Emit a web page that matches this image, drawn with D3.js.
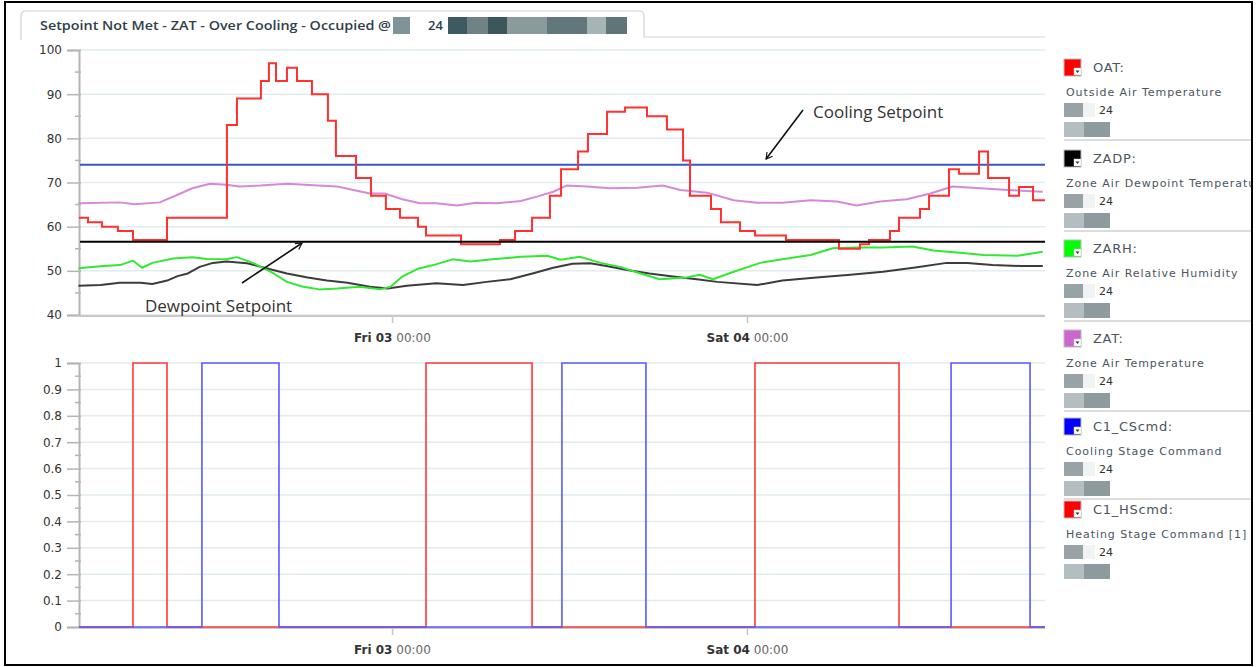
<!DOCTYPE html>
<html>
<head>
<meta charset="utf-8">
<script src="https://cdn.jsdelivr.net/npm/d3@7"></script>
<style>
  body { margin: 0; background: #fff; }
  svg { display: block; font-family: "DejaVu Sans", Verdana, sans-serif; }
</style>
</head>
<body>
<div id="chart"></div>
<script>
// time values are hours counted from Thu 02 00:00
var startHour = 2.84, endHour = 68.15;

// OAT (step series)
var oatHours = [2.84, 3.45, 4.39, 5.47, 6.49, 8.79, 12.84, 13.52, 15.14, 15.68, 16.16, 16.90, 17.58, 18.59, 19.67, 20.21, 21.57, 22.58, 23.59, 24.54, 25.76, 26.30, 28.67, 31.30, 32.32, 33.47, 34.68, 35.43, 36.58, 37.25, 38.54, 39.75, 41.24, 42.59, 43.68, 44.15, 45.57, 46.24, 47.53, 48.54, 50.64, 54.22, 55.64, 56.25, 57.67, 58.28, 59.70, 60.31, 61.66, 62.34, 63.69, 64.30, 65.72, 66.39, 67.34, 68.15];
var oatValues = [62, 61, 60, 59, 57, 62, 83, 89, 93, 97, 93, 96, 93, 90, 84, 76, 71, 67, 64, 62, 60, 58, 56, 57, 59, 62, 67, 73, 77, 81, 86, 87, 85, 82, 75, 67, 64, 61, 59, 58, 57, 55, 56, 57, 59, 62, 64, 67, 73, 72, 77, 71, 67, 69, 66, 66];

// ZAT
var zatHours = [2.8, 5.6, 6.6, 8.3, 9.7, 10.5, 11.7, 12.8, 13.7, 15.1, 16.9, 18.7, 20.3, 22.5, 23.5, 24.7, 25.9, 27.0, 28.4, 29.7, 31.1, 32.7, 33.8, 34.9, 35.8, 37.2, 38.7, 40.6, 42.3, 43.5, 45.3, 47.1, 48.7, 50.4, 52.3, 54.1, 55.4, 57.0, 58.8, 60.4, 61.9, 63.8, 65.6, 68.0];
var zatValues = [65.3, 65.5, 65.1, 65.5, 67.5, 68.7, 69.7, 69.5, 69.1, 69.3, 69.7, 69.4, 69.1, 67.5, 67.5, 66.2, 65.3, 65.3, 64.8, 65.4, 65.3, 65.8, 66.8, 67.9, 69.3, 69.1, 68.7, 68.8, 69.3, 68.3, 67.7, 66.0, 65.4, 65.4, 66.0, 65.7, 64.8, 65.7, 66.2, 67.5, 69.1, 68.7, 68.3, 67.9];

// ZADP
var zadpHours = [2.8, 4.3, 5.6, 7.0, 7.8, 8.8, 9.5, 10.2, 11.0, 11.9, 12.8, 14.2, 15.5, 16.9, 18.3, 19.6, 21.0, 22.5, 23.7, 25.0, 27.0, 28.8, 30.4, 32.0, 33.5, 34.9, 36.2, 37.4, 38.5, 39.9, 41.4, 43.0, 44.6, 46.0, 48.7, 50.4, 52.7, 55.0, 57.2, 59.5, 61.5, 62.9, 64.6, 66.5, 68.0];
var zadpValues = [46.6, 46.8, 47.3, 47.3, 47.0, 47.8, 48.8, 49.4, 50.9, 51.8, 52.1, 51.7, 50.6, 49.4, 48.5, 47.8, 47.3, 46.4, 46.0, 46.6, 47.2, 46.8, 47.5, 48.1, 49.4, 50.7, 51.6, 51.7, 51.1, 50.2, 49.4, 48.7, 48.1, 47.5, 46.8, 47.8, 48.5, 49.1, 49.8, 50.8, 51.8, 51.8, 51.3, 51.1, 51.1];

// ZARH
var zarhHours = [2.8, 4.5, 5.6, 6.5, 7.1, 7.8, 9.2, 10.5, 11.5, 12.8, 13.5, 14.6, 16.0, 16.9, 18.0, 19.1, 20.3, 21.8, 23.2, 23.9, 24.7, 25.7, 26.8, 28.1, 29.3, 30.8, 32.7, 34.5, 35.4, 36.7, 38.1, 39.4, 40.8, 42.1, 43.9, 44.8, 45.7, 47.1, 48.9, 50.4, 52.3, 53.8, 55.4, 57.2, 59.2, 60.6, 62.4, 64.0, 66.3, 68.0];
var zarhValues = [50.6, 51.1, 51.3, 52.3, 50.7, 51.8, 52.8, 53.1, 52.7, 52.6, 53.1, 51.8, 49.4, 47.5, 46.4, 45.8, 46.0, 46.4, 45.8, 46.4, 48.7, 50.4, 51.3, 52.6, 52.1, 52.6, 53.2, 53.4, 52.5, 53.2, 51.8, 50.9, 49.4, 48.1, 48.5, 49.1, 48.1, 49.8, 51.8, 52.6, 53.6, 55.1, 55.3, 55.3, 55.5, 54.6, 54.1, 53.6, 53.4, 54.3];

// setpoints
var coolingSetpoint = 74;
var dewpointSetpoint = 56.6;

// stage commands (step series, 0/1)
var csHours = [2.84, 11.15, 16.36, 35.49, 41.17, 61.80, 67.14, 68.15];
var csValues = [0, 1, 0, 1, 0, 1, 0, 0];
var hsHours = [2.84, 6.49, 8.79, 26.30, 33.47, 48.54, 58.28, 68.15];
var hsValues = [0, 1, 0, 1, 0, 1, 0, 0];

// axis ticks
var topTicks = [40, 50, 60, 70, 80, 90, 100];
var topMinor = [45, 55, 65, 75, 85, 95];
var botTicks = [0, 0.1, 0.2, 0.3, 0.4, 0.5, 0.6, 0.7, 0.8, 0.9, 1];
var botMinor = [0.05, 0.15, 0.25, 0.35, 0.45, 0.55, 0.65, 0.75, 0.85, 0.95];
var dayTicks = [24, 48];

// legend
var legendNames = ["OAT:", "ZADP:", "ZARH:", "ZAT:", "C1_CScmd:", "C1_HScmd:"];
var legendDescs = ["Outside Air Temperature", "Zone Air Dewpoint Temperature", "Zone Air Relative Humidity", "Zone Air Temperature", "Cooling Stage Command", "Heating Stage Command [1]"];
var legendColors = ["#ff0000", "#000000", "#00ff00", "#cc66cc", "#0000ff", "#ff0000"];
var legendTops = [59, 150, 240, 330, 418, 501];

// annotations
var annotations = [
  {text: "Cooling Setpoint", tx: 52.47, ty: 84.6, fx: 51.79, fy: 86.4, ax: 49.29, ay: 75.3},
  {text: "Dewpoint Setpoint", tx: 7.30, ty: 40.7, fx: 13.86, fy: 47.25, ax: 17.92, ay: 56.3}
];

// title bar redaction blocks
var titleBlocks = [[393, 410, "#7f9498"], [448, 467, "#3f5960"], [467, 488, "#6f8386"], [488, 507, "#3b575c"], [507, 547, "#8a9a9d"], [547, 587, "#61777b"], [587, 606, "#a7b4b6"], [606, 627, "#5f7579"]];

var width = 1257, height = 667;
var base = new Date(2016, 5, 2, 0, 0);
function toDate(h) { return new Date(base.getTime() + h * 3600e3); }
function zip(hs, vs) { return hs.map(function(h, i) { return {t: toDate(h), v: vs[i]}; }); }

var svg = d3.select("#chart").append("svg")
  .attr("width", width).attr("height", height);

svg.append("rect").attr("width", width).attr("height", height).attr("fill", "#fff");

var defs = svg.append("defs");
defs.append("marker").attr("id", "arrow")
  .attr("viewBox", "-10 -10 20 20").attr("markerWidth", 14).attr("markerHeight", 14)
  .attr("refX", 0).attr("refY", 0).attr("orient", "auto").attr("markerUnits", "userSpaceOnUse")
  .append("path").attr("d", "M-9,-5 L0,0 L-9,5").attr("fill", "none").attr("stroke", "#111").attr("stroke-width", 1.6);
defs.append("clipPath").attr("id", "legclip").append("rect")
  .attr("x", 1046).attr("y", 0).attr("width", 205).attr("height", height);

// tab header
svg.append("path")
  .attr("d", "M21,40 L21,16 Q21,11 26,11 L639,11 Q644,11 644,16 L644,37 L1045,37")
  .attr("fill", "none").attr("stroke", "#cfd3d5").attr("stroke-width", 1.2);
svg.append("text").attr("x", 40).attr("y", 30)
  .attr("font-family", "'Open Sans', sans-serif").attr("font-weight", 600).attr("font-size", 13)
  .attr("fill", "#2f4048").attr("textLength", 351).attr("lengthAdjust", "spacingAndGlyphs")
  .text("Setpoint Not Met - ZAT - Over Cooling - Occupied @");
svg.selectAll(".tblock").data(titleBlocks).enter().append("rect")
  .attr("x", function(d) { return d[0]; }).attr("y", 17)
  .attr("width", function(d) { return d[1] - d[0]; }).attr("height", 17)
  .attr("fill", function(d) { return d[2]; });
svg.append("text").attr("x", 428).attr("y", 30)
  .attr("font-family", "'Open Sans', sans-serif").attr("font-weight", 600).attr("font-size", 13)
  .attr("fill", "#2f4048").text("24");

// scales
var x = d3.scaleTime().domain([toDate(startHour), toDate(endHour)]).range([79, 1045]);
var yTop = d3.scaleLinear().domain([40, 100]).range([315, 50]);
var yBot = d3.scaleLinear().domain([0, 1]).range([627, 363]);

function drawFrame(y, ticks, minor, fmt) {
  var g = svg.append("g");
  g.selectAll(".grid").data(ticks).enter().append("line")
    .attr("x1", 80).attr("x2", 1045)
    .attr("y1", function(d) { return y(d); }).attr("y2", function(d) { return y(d); })
    .attr("stroke", "#e2ebf0").attr("stroke-width", 1.5);

  var ax = g.append("g").attr("transform", "translate(79,0)")
    .call(d3.axisLeft(y).tickValues(ticks).tickSize(12).tickPadding(5).tickFormat(fmt));
  ax.select(".domain").attr("stroke", "#b5b5b5").attr("stroke-width", 2);
  ax.selectAll(".tick line").attr("stroke", "#b5b5b5").attr("stroke-width", 1.5).attr("x2", -12).attr("x1", 2);
  ax.selectAll(".tick text").attr("font-size", 12).attr("fill", "#333")
    .attr("font-family", "'DejaVu Sans', sans-serif");

  g.selectAll(".minor").data(minor).enter().append("line")
    .attr("x1", 75).attr("x2", 81)
    .attr("y1", function(d) { return y(d); }).attr("y2", function(d) { return y(d); })
    .attr("stroke", "#b5b5b5").attr("stroke-width", 1.5);

  var y0 = y.range()[0] + 1;
  var xa = g.append("g").attr("transform", "translate(0," + y0 + ")")
    .call(d3.axisBottom(x).tickValues(dayTicks.map(toDate)).tickSize(7).tickPadding(10));
  xa.select(".domain").attr("stroke", "#c8c8c8").attr("stroke-width", 2).attr("d", "M79,0H1045");
  xa.selectAll(".tick line").attr("stroke", "#c8c8c8").attr("stroke-width", 1.5);
  xa.selectAll(".tick text").text(null)
    .attr("font-size", 12).attr("font-family", "'DejaVu Sans', sans-serif")
    .each(function(d) {
      var t = d3.select(this);
      t.append("tspan").attr("font-weight", "bold").attr("fill", "#333").text(d3.timeFormat("%a %d")(d));
      t.append("tspan").attr("fill", "#666").text(" " + d3.timeFormat("%H:%M")(d));
    });
  return g;
}

drawFrame(yTop, topTicks, topMinor, d3.format("d"));
drawFrame(yBot, botTicks, botMinor, function(d) { return d3.format("")(d); });

// setpoint lines
svg.append("line").attr("x1", 80).attr("x2", 1045)
  .attr("y1", yTop(coolingSetpoint)).attr("y2", yTop(coolingSetpoint))
  .attr("stroke", "#3a55cc").attr("stroke-width", 2);

// top series
var smooth = d3.line().x(function(d) { return x(d.t); }).y(function(d) { return yTop(d.v); });
var stepTop = d3.line().curve(d3.curveStepAfter).x(function(d) { return x(d.t); }).y(function(d) { return yTop(d.v); });

svg.append("path").datum(zip(zatHours, zatValues)).attr("d", smooth)
  .attr("fill", "none").attr("stroke", "#d58ad9").attr("stroke-width", 2).attr("stroke-linejoin", "round");
svg.append("path").datum(zip(zadpHours, zadpValues)).attr("d", smooth)
  .attr("fill", "none").attr("stroke", "#3c3c3c").attr("stroke-width", 2).attr("stroke-linejoin", "round");
svg.append("path").datum(zip(zarhHours, zarhValues)).attr("d", smooth)
  .attr("fill", "none").attr("stroke", "#33e833").attr("stroke-width", 2).attr("stroke-linejoin", "round");
svg.append("path").datum(zip(oatHours, oatValues)).attr("d", stepTop)
  .attr("fill", "none").attr("stroke", "#ff3030").attr("stroke-width", 2);

svg.append("line").attr("x1", 80).attr("x2", 1045)
  .attr("y1", yTop(dewpointSetpoint)).attr("y2", yTop(dewpointSetpoint))
  .attr("stroke", "#000").attr("stroke-width", 2);

// annotations
annotations.forEach(function(a) {
  svg.append("line")
    .attr("x1", x(toDate(a.fx))).attr("y1", yTop(a.fy))
    .attr("x2", x(toDate(a.ax))).attr("y2", yTop(a.ay))
    .attr("stroke", "#111").attr("stroke-width", 1.6).attr("marker-end", "url(#arrow)");
  svg.append("text").attr("x", x(toDate(a.tx))).attr("y", yTop(a.ty))
    .attr("font-family", "'Open Sans', sans-serif").attr("font-size", 17).attr("fill", "#333")
    .text(a.text);
});

// bottom series
var stepBot = d3.line().curve(d3.curveStepAfter).x(function(d) { return x(d.t); }).y(function(d) { return yBot(d.v); });
svg.append("path").datum(zip(hsHours, hsValues)).attr("d", stepBot)
  .attr("fill", "none").attr("stroke", "#ff3a3a").attr("stroke-width", 1.6);
svg.append("path").datum(zip(csHours, csValues)).attr("d", stepBot)
  .attr("fill", "none").attr("stroke", "#5a5aff").attr("stroke-width", 1.6);

// legend
var leg = svg.append("g").attr("clip-path", "url(#legclip)");
var items = leg.selectAll(".item").data(legendNames).enter().append("g")
  .attr("transform", function(d, i) { return "translate(1064," + legendTops[i] + ")"; });
items.append("rect").attr("width", 17).attr("height", 17)
  .attr("fill", function(d, i) { return legendColors[i]; })
  .attr("stroke", "#bbb").attr("stroke-width", 1);
items.append("rect").attr("x", 10).attr("y", 9).attr("width", 7).attr("height", 7)
  .attr("fill", "#fff").attr("stroke", "#ccc").attr("stroke-width", 0.5);
items.append("path").attr("d", "M11.5,11.5 L15.5,11.5 L13.5,14 Z").attr("fill", "#333");
items.append("text").attr("x", 29).attr("y", 13)
  .attr("font-size", 13).attr("fill", "#4a5560").attr("letter-spacing", 0.7)
  .text(function(d) { return d; });
items.append("text").attr("x", 2).attr("y", 37)
  .attr("font-size", 11).attr("fill", "#4a5560").attr("letter-spacing", 0.95)
  .text(function(d, i) { return legendDescs[i]; });
// redacted rows
items.append("rect").attr("x", 0).attr("y", 44).attr("width", 19).attr("height", 14).attr("fill", "#97a3a6");
items.append("rect").attr("x", 19).attr("y", 44).attr("width", 12).attr("height", 14).attr("fill", "#f1f3f3");
items.append("text").attr("x", 35).attr("y", 55).attr("font-size", 11).attr("fill", "#333").text("24");
items.append("rect").attr("x", 0).attr("y", 63).attr("width", 20).attr("height", 15).attr("fill", "#b4bec0");
items.append("rect").attr("x", 20).attr("y", 63).attr("width", 26).attr("height", 15).attr("fill", "#8e9b9e");
items.filter(function(d, i) { return i < legendNames.length - 1; })
  .append("line").attr("x1", 0).attr("x2", 190).attr("y1", 81).attr("y2", 81)
  .attr("stroke", "#d0d0d0").attr("stroke-width", 1.5);

// outer frame
svg.append("rect").attr("x", 5).attr("y", 2).attr("width", 1247).attr("height", 663)
  .attr("fill", "none").attr("stroke", "#000").attr("stroke-width", 2);
</script>
</body>
</html>
